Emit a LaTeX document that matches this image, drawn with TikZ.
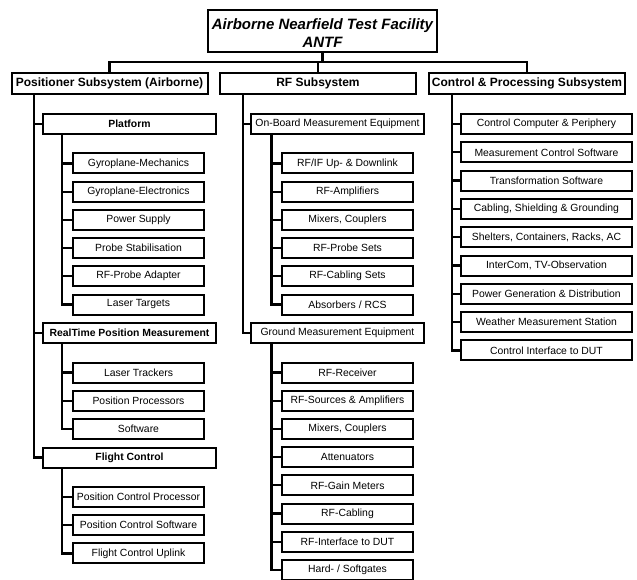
\documentclass[tikz,border=0pt]{standalone}
\usepackage{fontspec}
\setmainfont{Liberation Sans}
\begin{document}
\begin{tikzpicture}[x=1pt,y=-1pt,
  box/.style={draw, line width=2pt, rectangle, inner sep=0pt, align=center, font=\fontsize{10.4}{12}\selectfont},
  leaf/.style={box, minimum width=131pt, minimum height=20pt},
  cleaf/.style={box, minimum width=171pt, minimum height=20pt},
  sect/.style={box, minimum width=173pt, minimum height=20pt, font=\fontsize{10.4}{12}\selectfont\bfseries},
  rfsect/.style={box, minimum width=173pt, minimum height=20pt},
  topbox/.style={box, minimum width=196pt, minimum height=21pt, font=\fontsize{12}{14}\selectfont\bfseries},
  titlebox/.style={box, minimum width=229pt, minimum height=42pt, font=\fontsize{15}{17.5}\selectfont\bfseries\itshape},
  conn/.style={line width=2.3pt}]
\useasboundingbox (0,0) rectangle (637,580);

% title and level 1
\node[titlebox] (title) at (322.5,31) {\rule{0pt}{15.5pt}Airborne Nearfield Test Facility\\ANTF};
\node[topbox] (pos) at (109.5,83.5) {Positioner Subsystem (Airborne)};
\node[topbox] (rf) at (318,83.5) {RF Subsystem};
\node[topbox] (ctrl) at (527,83.5) {Control \& Processing Subsystem};
\coordinate (bus) at (0,62);
\draw[conn] (title.south) -- (title.south |- bus);
\draw[conn] (pos.north) -- (pos.north |- bus) -- (ctrl.north |- bus) -- (ctrl.north);
\draw[conn] (rf.north) -- (rf.north |- bus);

% Positioner subsystem
\node[sect] (platform) at (129.5,124) {Platform};
\node[sect] (rtpm) at (129.5,333) {RealTime Position Measurement};
\node[sect] (flight) at (129.5,457.5) {Flight Control};
\coordinate (posT) at (34,95);
\foreach \s in {platform,rtpm,flight} \draw[conn] (posT) |- (\s.west);

\coordinate (paT) at (62,135);
\foreach \t [count=\i from 0] in {Gyroplane-Mechanics, Gyroplane-Electronics, Power Supply, Probe Stabilisation, RF-Probe Adapter, Laser Targets} {
  \node[leaf] (pa\i) at (138.5,163.5+28.2*\i) {\t};
  \draw[conn] (paT) |- (pa\i.west);
}
\coordinate (rtT) at (62,344);
\foreach \t [count=\i from 0] in {Laser Trackers, Position Processors, Software} {
  \node[leaf] (rt\i) at (138.5,372.5+28.2*\i) {\t};
  \draw[conn] (rtT) |- (rt\i.west);
}
\coordinate (flT) at (62,468);
\foreach \t [count=\i from 0] in {Position Control Processor, Position Control Software, Flight Control Uplink} {
  \node[leaf] (fl\i) at (138.5,497+28.2*\i) {\t};
  \draw[conn] (flT) |- (fl\i.west);
}

% RF subsystem
\node[rfsect] (onboard) at (337.5,124) {On-Board Measurement Equipment};
\node[rfsect] (ground) at (337.5,333) {Ground Measurement Equipment};
\coordinate (rfT) at (243,95);
\foreach \s in {onboard,ground} \draw[conn] (rfT) |- (\s.west);

\coordinate (obT) at (271.5,135);
\foreach \t [count=\i from 0] in {RF/IF Up- \& Downlink, RF-Amplifiers, {Mixers, Couplers}, RF-Probe Sets, RF-Cabling Sets, Absorbers / RCS} {
  \node[leaf] (ob\i) at (347.5,163.5+28.2*\i) {\t};
  \draw[conn] (obT) |- (ob\i.west);
}
\coordinate (grT) at (271.5,344);
\foreach \t [count=\i from 0] in {RF-Receiver, RF-Sources \& Amplifiers, {Mixers, Couplers}, Attenuators, RF-Gain Meters, RF-Cabling, RF-Interface to DUT, Hard- / Softgates} {
  \node[leaf] (gr\i) at (347.5,372.5+28.2*\i) {\t};
  \draw[conn] (grT) |- (gr\i.west);
}

% Control & Processing subsystem
\coordinate (ctT) at (452,95);
\foreach \t [count=\i from 0] in {Control Computer \& Periphery, Measurement Control Software, Transformation Software, {Cabling, Shielding \& Grounding}, {Shelters, Containers, Racks, AC}, {InterCom, TV-Observation}, Power Generation \& Distribution, Weather Measurement Station, Control Interface to DUT} {
  \node[cleaf] (ct\i) at (546.5,124+28.3*\i) {\t};
  \draw[conn] (ctT) |- (ct\i.west);
}
\end{tikzpicture}
\end{document}
